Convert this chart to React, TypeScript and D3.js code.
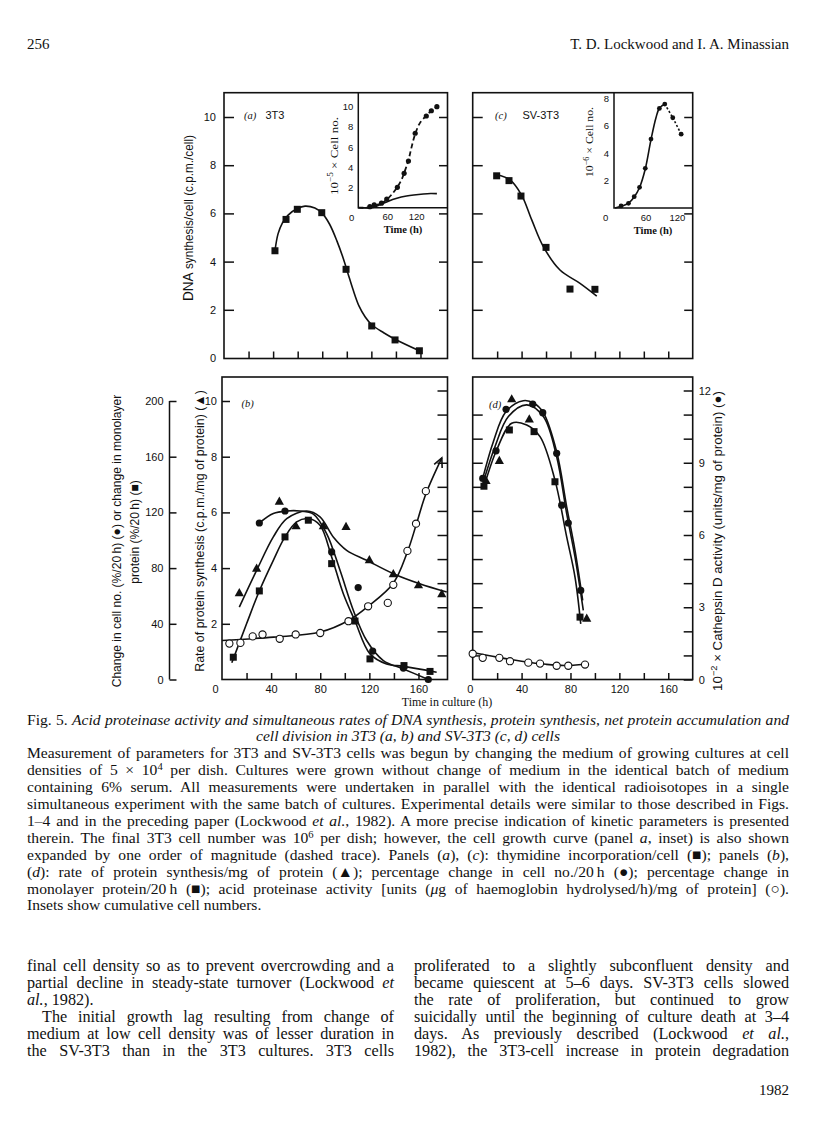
import * as d3 from 'd3';
import { useEffect, useRef } from 'react';

// ---------- panel (a) 3T3: thymidine incorporation / cell ----------
const aHours = [41.5, 50.5, 59.7, 79.6, 99.4, 120.3, 139.3, 159.1];
const aDna = [4.45, 5.75, 6.17, 6.03, 3.68, 1.33, 0.75, 0.3];
const aFitHours = [41.5, 44, 47.5, 52, 59.7, 66, 74, 80, 86, 92, 97, 101, 105, 110, 115, 120.3, 130, 139.3, 159.1];
const aFitDna = [4.45, 5.15, 5.6, 5.92, 6.2, 6.3, 6.22, 6.0, 5.55, 4.85, 4.15, 3.5, 2.85, 2.15, 1.7, 1.38, 1.05, 0.78, 0.3];

// inset (a): cumulative cell no. (x10^-5)
const aInsetHours = [24, 33, 48, 59, 81, 95, 104, 118, 141, 151.5, 163];
const aInsetCells = [0.1, 0.27, 0.45, 0.86, 2.02, 3.4, 4.62, 7.37, 9.08, 9.6, 10.0];
const aInsetDashHours = [0, 20, 35, 50, 60, 70, 81, 90, 97, 104, 110, 118, 128, 141, 151.5, 163];
const aInsetDashCells = [0, 0.02, 0.22, 0.5, 0.85, 1.35, 2.05, 2.8, 3.7, 4.7, 5.9, 7.3, 8.4, 9.1, 9.6, 10.0];
const aInsetSolidHours = [0, 25, 35, 45, 60, 80, 100, 115, 135, 150, 163];
const aInsetSolidCells = [0, 0, 0.08, 0.3, 0.6, 0.93, 1.15, 1.26, 1.36, 1.4, 1.39];

// ---------- panel (c) SV-3T3: thymidine incorporation / cell ----------
const cHours = [19.6, 29.7, 39.5, 60, 79.6, 100];
const cDna = [7.56, 7.36, 6.72, 4.59, 2.86, 2.85];
const cFitHours = [19.6, 30.5, 40, 48.3, 57.8, 71.4, 87.8, 101.5];
const cFitDna = [7.6, 7.39, 6.76, 5.73, 4.62, 3.65, 3.1, 2.57];

// inset (c): cumulative cell no. (x10^-6)
const cInsetHours = [13.5, 27.6, 38.5, 48.7, 59.6, 70.5, 86.5, 96.8, 112, 128];
const cInsetCells = [0.15, 0.34, 0.83, 1.51, 2.9, 5.04, 7.28, 7.6, 6.6, 5.4];
const cInsetSolidHours = [2, 13.5, 27.6, 38.5, 48.7, 59.6, 70.5, 80, 86.5, 96.8];
const cInsetSolidCells = [0, 0.12, 0.35, 0.8, 1.5, 2.85, 5.0, 6.6, 7.3, 7.6];
const cInsetDotHours = [96.8, 112, 128];
const cInsetDotCells = [7.6, 6.6, 5.4];

// ---------- panel (b) 3T3 ----------
// rate of protein synthesis (triangles)
const bTriHours = [14.1, 28.2, 46.7, 60.3, 82.5, 101, 120, 139.5, 160, 179];
const bTriRate = [3.1, 3.98, 6.38, 5.5, 5.5, 5.48, 4.28, 3.78, 3.38, 3.06];
const bTriFitHours = [14.1, 28.2, 41.8, 52.7, 69, 79.8, 90.6, 101.5, 117.8, 139.5, 161, 183];
const bTriFitRate = [2.6, 3.92, 5.12, 5.78, 6.05, 5.84, 5.12, 4.64, 4.28, 3.8, 3.44, 3.14];
// change in cell no. (filled circles), in units of the left scale (x20 = %/20h)
const bCellHours = [30.4, 51.3, 89.3, 110.9, 122.7, 147.7, 168];
const bCellChange = [5.62, 6.05, 4.58, 3.3, 1.02, 0.41, 0.0];
const bCellFitHours = [30.4, 41.8, 52.7, 63.5, 74.4, 85.2, 96.1, 107, 117.8, 131.4, 147.7, 168];
const bCellFitChange = [5.62, 5.96, 6.05, 6.05, 5.94, 5.24, 3.92, 2.48, 1.4, 0.68, 0.38, 0.0];
// change in monolayer protein (filled squares)
const bProtHours = [9.2, 30.4, 51.3, 70.3, 89.3, 108.3, 120.5, 148.2, 169.4];
const bProtChange = [0.8, 3.18, 5.12, 5.72, 4.16, 2.1, 0.74, 0.5, 0.29];
const bProtFitHours = [8, 20, 30.4, 41.8, 51.3, 60.8, 70.3, 79.8, 89.3, 98.8, 108.3, 120.5, 134, 148.2, 174.8];
const bProtFitChange = [0.6, 2.0, 3.18, 4.28, 5.12, 5.66, 5.78, 5.54, 4.4, 3.08, 2.1, 0.92, 0.56, 0.47, 0.26];
// acid proteinase activity (open circles), right-hand 0-12 scale
const bAcidHours = [6, 15, 25, 33, 47, 60, 80, 103, 119, 135, 139.5, 151, 158, 166];
const bAcidActivity = [1.49, 1.52, 1.79, 1.87, 1.69, 1.87, 1.93, 2.42, 3.04, 3.18, 3.93, 5.34, 6.47, 7.82];
const bAcidFitHours = [0, 42, 80, 103, 119, 139.5, 151, 158, 166, 179];
const bAcidFitActivity = [1.62, 1.76, 1.97, 2.45, 3.04, 4.0, 5.3, 6.4, 7.7, 9.2];

// ---------- panel (d) SV-3T3 ----------
const dTriHours = [10.9, 21.8, 31.9, 46.3, 93.3];
const dTriRate = [7.13, 7.85, 10.06, 9.34, 2.18];
const dCellHours = [8.2, 19.1, 27.3, 49.1, 57.3, 68.7, 72.8, 78.2, 88.4];
const dCellChange = [7.22, 8.21, 9.7, 9.89, 9.58, 8.12, 6.26, 5.62, 3.2];
const dProtHours = [9.2, 30, 50.2, 67.3, 87.8];
const dProtChange = [6.94, 8.96, 8.9, 7.1, 2.24];
const dAcidHours = [0, 8.2, 21.8, 30.5, 45.5, 55.1, 68.7, 78.2, 91.9];
const dAcidActivity = [1.07, 0.9, 0.9, 0.76, 0.7, 0.66, 0.57, 0.57, 0.62];
const dTopFitHours = [8.2, 16.9, 27.3, 41.4, 50.2, 57.8, 68.7, 76.9, 83.7, 90];
const dTopFit = [7.22, 8.54, 9.62, 10.01, 9.92, 9.58, 8.18, 6.2, 4.64, 2.84];
const dMidFitHours = [9.2, 18.2, 29.2, 44.2, 57.8, 68.7, 76.9, 83.7, 90.5];
const dMidFit = [7.16, 8.36, 9.44, 9.86, 9.44, 8.0, 5.96, 4.4, 2.48];
const dLowFitHours = [9.2, 19.6, 31.9, 44.2, 55.1, 67.3, 76.9, 83.7, 88.4];
const dLowFit = [6.92, 8.24, 9.2, 9.14, 8.72, 7.16, 5.12, 3.68, 2.0];
const dAcidFitHours = [0, 20, 40, 60, 75, 92];
const dAcidFit = [1.12, 0.93, 0.76, 0.63, 0.58, 0.63];

// ---------- tick values ----------
const hourTicks = [20, 40, 60, 80, 100, 120, 140, 160];
const hourLabels = [0, 40, 80, 120, 160];
const dnaTicks = [0, 2, 4, 6, 8, 10];
const rateTicks = [2, 4, 6, 8, 10];
const pctTicks = [0, 40, 80, 120, 160, 200];
const cathTicks = d3.range(0, 13);
const cathLabels = [0, 3, 6, 9, 12];
const insetATicks = [2, 4, 6, 8, 10];
const insetCTicks = [2, 4, 6, 8];
const insetHourLabels = [60, 120];

// ---------- page text ----------
type Seg = { t: string; i?: boolean; sup?: boolean; big?: boolean };
const captionLines: Seg[][] = [
  [{ t: 'Fig. 5. ' }, { t: 'Acid proteinase activity and simultaneous rates of DNA synthesis, protein synthesis, net protein accumulation and', i: true }],
  [{ t: 'cell division in 3T3 (a, b) and SV-3T3 (c, d) cells', i: true }],
  [{ t: 'Measurement of parameters for 3T3 and SV-3T3 cells was begun by changing the medium of growing cultures at cell' }],
  [{ t: 'densities of 5 × 10' }, { t: '4', sup: true }, { t: ' per dish. Cultures were grown without change of medium in the identical batch of medium' }],
  [{ t: 'containing 6% serum. All measurements were undertaken in parallel with the identical radioisotopes in a single' }],
  [{ t: 'simultaneous experiment with the same batch of cultures. Experimental details were similar to those described in Figs.' }],
  [{ t: '1–4 and in the preceding paper (Lockwood ' }, { t: 'et al.', i: true }, { t: ', 1982). A more precise indication of kinetic parameters is presented' }],
  [{ t: 'therein. The final 3T3 cell number was 10' }, { t: '6', sup: true }, { t: ' per dish; however, the cell growth curve (panel ' }, { t: 'a', i: true }, { t: ', inset) is also shown' }],
  [{ t: 'expanded by one order of magnitude (dashed trace). Panels (' }, { t: 'a', i: true }, { t: '), (' }, { t: 'c', i: true }, { t: '): thymidine incorporation/cell (■); panels (' }, { t: 'b', i: true }, { t: '),' }],
  [{ t: '(' }, { t: 'd', i: true }, { t: '): rate of protein synthesis/mg of protein (▲); percentage change in cell no./20\u2009h (●); percentage change in' }],
  [{ t: 'monolayer protein/20\u2009h (■); acid proteinase activity [units (' }, { t: 'μ', i: true }, { t: 'g of haemoglobin hydrolysed/h)/mg of protein] (○).' }],
  [{ t: 'Insets show cumulative cell numbers.' }],
];
const captionMode = ['justify', 'center', 'justify', 'justify', 'justify', 'justify', 'justify', 'justify', 'justify', 'justify', 'justify', 'left'];

const leftColumn: Seg[][] = [
  [{ t: 'final cell density so as to prevent overcrowding and a' }],
  [{ t: 'partial decline in steady-state turnover (Lockwood ' }, { t: 'et', i: true }],
  [{ t: 'al.', i: true }, { t: ', 1982).' }],
  [{ t: 'The initial growth lag resulting from change of' }],
  [{ t: 'medium at low cell density was of lesser duration in' }],
  [{ t: 'the SV-3T3 than in the 3T3 cultures. 3T3 cells' }],
];
const leftMode = ['justify', 'justify', 'left', 'indent', 'justify', 'justify'];
const rightColumn: Seg[][] = [
  [{ t: 'proliferated to a slightly subconfluent density and' }],
  [{ t: 'became quiescent at 5–6 days. SV-3T3 cells slowed' }],
  [{ t: 'the rate of proliferation, but continued to grow' }],
  [{ t: 'suicidally until the beginning of culture death at 3–4' }],
  [{ t: 'days. As previously described (Lockwood ' }, { t: 'et al.', i: true }, { t: ',' }],
  [{ t: '1982), the 3T3-cell increase in protein degradation' }],
];

const INK = '#111';
const SANS = '"Liberation Sans", Arial, Helvetica, sans-serif';
const SERIF = '"Liberation Serif", "Times New Roman", serif';

const pairs = (a: number[], b: number[]) => a.map((v, i) => [v, b[i]] as [number, number]);

export default function App() {
  const ref = useRef<SVGSVGElement | null>(null);

  useEffect(() => {
    const svg = d3.select(ref.current);
    svg.selectAll('*').remove();
    svg.append('rect').attr('width', 816).attr('height', 1136).attr('fill', '#fff');
    const g = svg.append('g');

    // ---- layout ----
    const L1 = 224, R1 = 447.5, L2 = 472.7, R2 = 692.7;
    const T1 = 92.7, B1 = 358.5, T2 = 377, B2 = 679.5;

    const xA = d3.scaleLinear().domain([0, 180]).range([L1, L1 + 180 * 1.228]);
    const xB = d3.scaleLinear().domain([0, 180]).range([222, 222 + 180 * 1.228]);
    const xC = d3.scaleLinear().domain([0, 180]).range([L2, R2]);
    const yTop = d3.scaleLinear().domain([0, 10]).range([B1 - 0.5, 117]);
    const yRate = d3.scaleLinear().domain([0, 10]).range([B2, 401]);
    const yPct = d3.scaleLinear().domain([0, 200]).range([B2, 401]);
    const yCath = d3.scaleLinear().domain([0, 12]).range([B2, 390.5]);

    const xIA = d3.scaleLinear().domain([0, 185]).range([358.3, R1]);
    const yIA = d3.scaleLinear().domain([0, 10]).range([207.7, 106.7]);
    const xIC = d3.scaleLinear().domain([0, 150]).range([614, R2]);
    const yIC = d3.scaleLinear().domain([0, 8]).range([208, 98.6]);

    const line = (x: any, y: any) =>
      d3.line<[number, number]>().x(d => x(d[0])).y(d => y(d[1])).curve(d3.curveCatmullRom.alpha(0.5));

    const trace = (x: any, y: any, T: number[], V: number[], w = 1.6, dash: string | null = null) => {
      g.append('path').attr('d', line(x, y)(pairs(T, V))).attr('fill', 'none')
        .attr('stroke', INK).attr('stroke-width', w).attr('stroke-dasharray', dash);
    };
    const squares = (x: any, y: any, T: number[], V: number[], s = 7) => {
      g.append('g').selectAll('rect').data(pairs(T, V)).enter().append('rect')
        .attr('x', d => x(d[0]) - s / 2).attr('y', d => y(d[1]) - s / 2)
        .attr('width', s).attr('height', s).attr('fill', INK);
    };
    const dots = (x: any, y: any, T: number[], V: number[], r = 3.6, open = false) => {
      g.append('g').selectAll('circle').data(pairs(T, V)).enter().append('circle')
        .attr('cx', d => x(d[0])).attr('cy', d => y(d[1])).attr('r', r)
        .attr('fill', open ? '#fff' : INK).attr('stroke', INK).attr('stroke-width', open ? 1.1 : 0);
    };
    const triangles = (x: any, y: any, T: number[], V: number[]) => {
      g.append('g').selectAll('path').data(pairs(T, V)).enter().append('path')
        .attr('d', d => {
          const cx = x(d[0]), cy = y(d[1]);
          return `M${cx},${cy - 5.2}L${cx + 4.6},${cy + 3}L${cx - 4.6},${cy + 3}Z`;
        })
        .attr('fill', INK);
    };
    const frame = (x0: number, y0: number, x1: number, y1: number) => {
      g.append('rect').attr('x', x0).attr('y', y0).attr('width', x1 - x0).attr('height', y1 - y0)
        .attr('fill', 'none').attr('stroke', INK).attr('stroke-width', 1.6);
    };
    const axis = (ax: any, tx: number, ty: number, size = 10.5) => {
      const a = g.append('g').attr('transform', `translate(${tx},${ty})`).call(ax);
      a.select('.domain').remove();
      a.selectAll('line').attr('stroke', INK).attr('stroke-width', 1.5);
      a.selectAll('text').attr('fill', INK).style('font-family', SANS).style('font-size', `${size}px`);
      return a;
    };
    const none = () => '';
    const txt = (x: number, y: number, s: string, o: any = {}) => {
      const t = g.append('text').attr('x', x).attr('y', y).text(s).attr('fill', INK)
        .style('font-family', o.font || SANS).style('font-size', `${o.size || 11}px`)
        .attr('text-anchor', o.anchor || 'start');
      if (o.italic) t.style('font-style', 'italic');
      if (o.bold) t.style('font-weight', 'bold');
      return t;
    };
    // rotated label (reads bottom to top); squeezed along its length to mimic the condensed face
    const vlabel = (cx: number, cy: number, segs: Seg[], size: number, len: number | null, sq = 1, font = SANS) => {
      const t = g.append('text').attr('text-anchor', 'middle').attr('fill', INK)
        .style('font-family', font).style('font-size', `${size}px`);
      segs.forEach(s => {
        const sp = t.append('tspan').text(s.t);
        if (s.sup) sp.attr('baseline-shift', 'super').style('font-size', '0.7em');
        if (s.big) sp.style('font-size', '1.15em');
      });
      const n = (t.node() as SVGTextElement).getComputedTextLength();
      const k = len && n > 0 ? len / n : sq;
      t.attr('transform', `translate(${cx},${cy}) rotate(-90) scale(${k},1)`);
      return k;
    };

    // ===================== panel (a) =====================
    frame(L1, T1, R1, B1);
    axis(d3.axisRight(yTop).tickValues(rateTicks).tickSize(10).tickFormat(none), L1, 0);
    axis(d3.axisLeft(yTop).tickValues(rateTicks).tickSize(8.5).tickFormat(none), R1, 0);
    axis(d3.axisTop(xA).tickValues(hourTicks).tickSize(7).tickFormat(none), 0, B1);
    axis(d3.axisLeft(yTop).tickValues(dnaTicks).tickSize(0).tickPadding(8), L1, 0, 11);
    trace(xA, yTop, aFitHours, aFitDna);
    squares(xA, yTop, aHours, aDna);
    txt(244, 118.5, '(a)', { font: SERIF, italic: true, size: 10.5 });
    txt(265.5, 119, '3T3', { size: 11 });
    vlabel(193, 218, [{ t: 'DNA', big: true }, { t: ' synthesis/cell (c.p.m./cell)' }], 13, 166);

    // inset (a)
    g.append('path').attr('d', `M${xIA(0)},${T1}V${yIA(0)}H${R1}`).attr('fill', 'none')
      .attr('stroke', INK).attr('stroke-width', 1.5);
    axis(d3.axisLeft(yIA).tickValues(insetATicks).tickSize(0).tickPadding(5), xIA(0), 0, 9.5);
    axis(d3.axisBottom(xIA).tickValues(insetHourLabels).tickSize(0).tickPadding(6), 0, yIA(0), 9.5);
    txt(351.7, 220.5, '0', { anchor: 'middle', size: 9.5 });
    trace(xIA, yIA, aInsetSolidHours, aInsetSolidCells, 1.6);
    trace(xIA, yIA, aInsetDashHours, aInsetDashCells, 1.8, '5,3');
    dots(xIA, yIA, aInsetHours, aInsetCells, 2.6);
    txt(403, 233, 'Time (h)', { font: SERIF, size: 10.5, anchor: 'middle', bold: true });
    vlabel(338, 156, [{ t: '10' }, { t: '−5', sup: true }, { t: ' × Cell no.' }], 11, 78, 1, SERIF);

    // ===================== panel (c) =====================
    frame(L2, T1, R2, B1);
    axis(d3.axisRight(yTop).tickValues(rateTicks).tickSize(10).tickFormat(none), L2, 0);
    axis(d3.axisLeft(yTop).tickValues(rateTicks).tickSize(8.5).tickFormat(none), R2, 0);
    axis(d3.axisTop(xC).tickValues(hourTicks).tickSize(7).tickFormat(none), 0, B1);
    trace(xC, yTop, cFitHours, cFitDna);
    squares(xC, yTop, cHours, cDna);
    txt(495, 118.5, '(c)', { font: SERIF, italic: true, size: 10.5 });
    txt(522.5, 119, 'SV-3T3', { size: 11 });

    // inset (c)
    g.append('path').attr('d', `M${xIC(0)},${T1}V${yIC(0)}H${R2}`).attr('fill', 'none')
      .attr('stroke', INK).attr('stroke-width', 1.5);
    axis(d3.axisLeft(yIC).tickValues(insetCTicks).tickSize(0).tickPadding(5), xIC(0), 0, 9.5);
    axis(d3.axisBottom(xIC).tickValues(insetHourLabels).tickSize(0).tickPadding(6), 0, yIC(0), 9.5);
    txt(605.7, 220.5, '0', { anchor: 'middle', size: 9.5 });
    trace(xIC, yIC, cInsetSolidHours, cInsetSolidCells, 1.6);
    trace(xIC, yIC, cInsetDotHours, cInsetDotCells, 1.6, '2,2');
    dots(xIC, yIC, cInsetHours, cInsetCells, 2.4);
    txt(653, 234, 'Time (h)', { font: SERIF, size: 10.5, anchor: 'middle', bold: true });
    vlabel(593, 142, [{ t: '10' }, { t: '−6', sup: true }, { t: ' × Cell no.' }], 11, 70, 1, SERIF);

    // ===================== panel (b) =====================
    frame(222, T2, R1, B2);
    axis(d3.axisRight(yRate).tickValues(rateTicks).tickSize(8).tickFormat(none), 222, 0);
    axis(d3.axisLeft(yCath).tickValues(cathTicks.slice(1)).tickSize(10).tickFormat(none), R1, 0);
    axis(d3.axisTop(xB).tickValues(hourTicks).tickSize(6.5).tickFormat(none), 0, B2);
    axis(d3.axisLeft(yRate).tickValues(rateTicks).tickSize(0).tickPadding(5), 222, 0, 11);
    const bx = axis(d3.axisBottom(xB).tickValues(hourLabels).tickSize(0).tickPadding(6), 0, B2, 11);
    bx.selectAll('text').filter((d: any) => d === 0).attr('x', -7);
    // percentage axis
    g.append('line').attr('x1', 169.5).attr('x2', 169.5).attr('y1', yPct(200)).attr('y2', yPct(0))
      .attr('stroke', INK).attr('stroke-width', 1.5);
    axis(d3.axisRight(yPct).tickValues(pctTicks).tickSize(7).tickFormat(none), 169.5, 0);
    axis(d3.axisLeft(yPct).tickValues(pctTicks).tickSize(0).tickPadding(6), 169.5, 0, 11);

    trace(xB, yCath, bAcidFitHours, bAcidFitActivity);
    trace(xB, yRate, bTriFitHours, bTriFitRate);
    trace(xB, yRate, bCellFitHours, bCellFitChange);
    trace(xB, yRate, bProtFitHours, bProtFitChange);
    // arrow head at end of the acid proteinase trace
    {
      const n = bAcidFitHours.length;
      const tx = xB(bAcidFitHours[n - 1]), ty = yCath(bAcidFitActivity[n - 1]);
      const px = xB(bAcidFitHours[n - 2]), py = yCath(bAcidFitActivity[n - 2]);
      const ang = Math.atan2(py - ty, px - tx);
      const wing = (a: number) => `${tx + 10 * Math.cos(ang + a)},${ty + 10 * Math.sin(ang + a)}`;
      g.append('path').attr('d', `M${wing(0.45)}L${tx},${ty}L${wing(-0.45)}`)
        .attr('fill', 'none').attr('stroke', INK).attr('stroke-width', 1.6);
    }
    dots(xB, yCath, bAcidHours, bAcidActivity, 3.6, true);
    triangles(xB, yRate, bTriHours, bTriRate);
    dots(xB, yRate, bCellHours, bCellChange);
    squares(xB, yRate, bProtHours, bProtChange);
    txt(241.5, 406.5, '(b)', { font: SERIF, italic: true, size: 10.5 });

    vlabel(204, 531, [{ t: 'Rate of protein synthesis (c.p.m./mg of protein) (▲)' }], 13, 282);
    const k = vlabel(121, 541, [{ t: 'Change in cell no. (%/20\u2009h) (●) or change in monolayer' }], 13, 293);
    vlabel(138.5, 532, [{ t: 'protein (%/20\u2009h) (■)' }], 13, null, k);

    // ===================== panel (d) =====================
    frame(L2, T2, R2, B2);
    axis(d3.axisRight(yCath).tickValues(cathTicks.slice(1, 12)).tickSize(10).tickFormat(none), L2, 0);
    axis(d3.axisLeft(yCath).tickValues(cathTicks).tickSize(9).tickFormat(none), R2, 0);
    axis(d3.axisTop(xC).tickValues(hourTicks).tickSize(6.5).tickFormat(none), 0, B2);
    axis(d3.axisRight(yCath).tickValues(cathLabels).tickSize(0).tickPadding(6), R2, 0, 11);
    const dx = axis(d3.axisBottom(xC).tickValues(hourLabels).tickSize(0).tickPadding(6), 0, B2, 11);
    dx.selectAll('text').filter((d: any) => d === 0).attr('x', -3);

    trace(xC, yRate, dTopFitHours, dTopFit);
    trace(xC, yRate, dMidFitHours, dMidFit);
    trace(xC, yRate, dLowFitHours, dLowFit);
    trace(xC, yCath, dAcidFitHours, dAcidFit);
    dots(xC, yCath, dAcidHours, dAcidActivity, 3.6, true);
    triangles(xC, yRate, dTriHours, dTriRate);
    dots(xC, yRate, dCellHours, dCellChange);
    squares(xC, yRate, dProtHours, dProtChange);
    txt(489, 407.5, '(d)', { font: SERIF, italic: true, size: 10.5 });
    vlabel(722, 541, [{ t: '10' }, { t: '−2', sup: true }, { t: ' × Cathepsin D activity (units/mg of protein) (●)' }], 13, 300);

    txt(447, 706, 'Time in culture (h)', { font: SERIF, size: 12, anchor: 'middle' });

    // ===================== page text =====================
    const textLine = (segs: Seg[], x: number, y: number, width: number, mode: string, size: number) => {
      const t = g.append('text').attr('y', y).attr('fill', INK)
        .style('font-family', SERIF).style('font-size', `${size}px`);
      segs.forEach(s => {
        const sp = t.append('tspan').text(s.t);
        if (s.i) sp.style('font-style', 'italic');
        if (s.sup) sp.attr('baseline-shift', 'super').style('font-size', '0.68em');
      });
      const natural = (t.node() as SVGTextElement).getComputedTextLength();
      const spaces = segs.map(s => s.t).join('').split(' ').length - 1;
      if (mode === 'justify' || mode === 'indent') {
        const x0 = mode === 'indent' ? x + 15 : x;
        const w = mode === 'indent' ? width - 15 : width;
        t.attr('x', x0);
        if (spaces > 0) t.style('word-spacing', `${(w - natural) / spaces}px`);
      } else if (mode === 'center') {
        t.attr('x', x + width / 2).attr('text-anchor', 'middle');
      } else {
        t.attr('x', x);
      }
    };

    txt(27, 49, '256', { font: SERIF, size: 15 });
    txt(789, 49, 'T. D. Lockwood and I. A. Minassian', { font: SERIF, size: 15, anchor: 'end' });

    captionLines.forEach((segs, i) => textLine(segs, 27, 724.5 + i * 16.9, 762, captionMode[i], 15.6));
    leftColumn.forEach((segs, i) => textLine(segs, 27, 970.5 + i * 17, 367, leftMode[i], 16.2));
    rightColumn.forEach((segs, i) => textLine(segs, 414, 970.5 + i * 17, 375, 'justify', 16.2));
    txt(789, 1095, '1982', { font: SERIF, size: 15, anchor: 'end' });
  }, []);

  return (
    <svg
      ref={ref}
      width={816}
      height={1136}
      style={{ position: 'absolute', left: 0, top: 0, display: 'block' }}
    />
  );
}
